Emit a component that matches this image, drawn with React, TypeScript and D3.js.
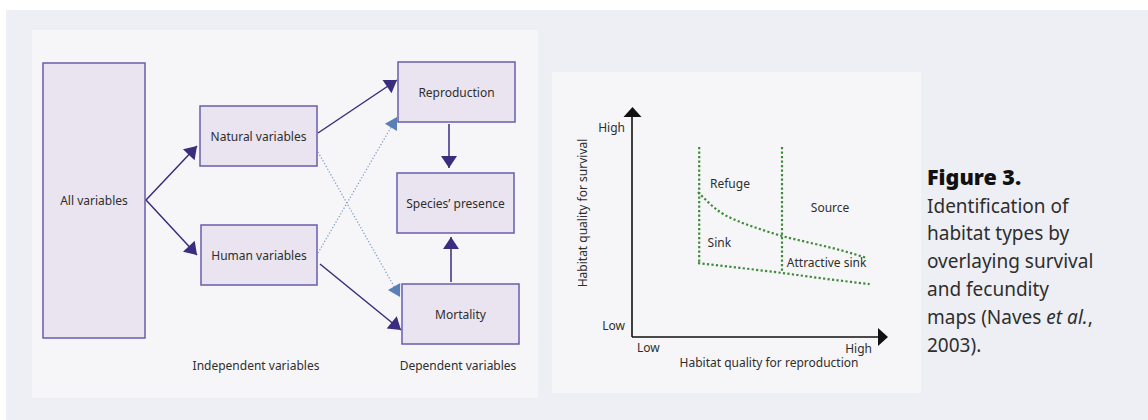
import React from "react";
import * as d3 from "d3";

// ---------- Diagram data (left panel) ----------
const nodeLabels = ["All variables", "Natural variables", "Human variables", "Reproduction", "Species’ presence", "Mortality"];
// box extents in panel units: [x0, y0, x1, y1]
const nodeBoxes: [number, number, number, number][] = [
  [43, 63, 145, 338],
  [200, 106, 317, 166],
  [201, 225, 317, 285],
  [398, 62, 515, 122],
  [397, 173, 514, 233],
  [402, 284, 519, 344],
];
// solid arrows: [x1,y1,x2(tip),y2(tip)]
const solidArrows: [number, number, number, number][] = [
  [146, 200, 197, 146],
  [146, 200, 197, 255],
  [318, 133, 397, 80],
  [320, 264, 401, 330],
  [449, 124, 449, 168],
  [451, 282, 451, 237],
];
const dottedArrows: [number, number, number, number][] = [
  [318, 152, 400, 297],
  [318, 253, 397, 117],
];
const groupLabels = ["Independent variables", "Dependent variables"];
const groupLabelX = [256, 458];

// ---------- Habitat chart data (right panel) ----------
const regionBoundX = [28, 62.5];          // vertical dotted thresholds (reproduction)
const verticalTop = 90.5;
const verticalBottoms = [35.2, 30.5];
const upperCurveX = [27.5, 36.7, 45, 53.3, 62.5, 72.9, 86.7, 97.9];
const upperCurveY = [69, 59.5, 54.8, 51.4, 48.1, 45.2, 41.4, 37.6];
const lowerCurveX = [27.5, 45, 62.5, 80, 99];
const lowerCurveY = [35.2, 32.9, 30.5, 27.8, 25.2];
const regionLabels = ["Refuge", "Source", "Sink", "Attractive sink"];
const regionLabelX = [32.5, 74.5, 31.5, 64.5];
const regionLabelY = [71, 59.3, 43, 33.3];
const axisTickLabels = ["Low", "High"];
const caption = ["Identification of", "habitat types by", "overlaying survival", "and fecundity"];

const FONT = "'Noto Sans', 'DejaVu Sans', sans-serif";
const TEXT = "#2e2e2e";
const LINE = "#3a2c7e";
const BOX_STROKE = "#6a5eab";
const BOX_FILL = "#e9e4ef";
const BLUE = "#7e9bcb";
const BLUE_HEAD = "#5a7fb6";
const GREEN = "#3f8a3a";

function head(x1: number, y1: number, x2: number, y2: number, L: number, W: number) {
  const dx = x2 - x1, dy = y2 - y1;
  const len = Math.hypot(dx, dy);
  const ux = dx / len, uy = dy / len;
  const nx = -uy, ny = ux;
  const bx = x2 - L * ux, by = y2 - L * uy;
  return `M${x2},${y2}L${bx + W * nx},${by + W * ny}L${bx - W * nx},${by - W * ny}Z`;
}

export default function App() {
  // chart scales
  const x = d3.scaleLinear().domain([0, 100]).range([632, 872]);
  const y = d3.scaleLinear().domain([0, 100]).range([337, 127]);
  const curveGen = d3
    .line<[number, number]>()
    .x((d) => x(d[0]))
    .y((d) => y(d[1]))
    .curve(d3.curveMonotoneX);
  const upper: [number, number][] = upperCurveX.map((v, i) => [v, upperCurveY[i]]);
  const lower: [number, number][] = lowerCurveX.map((v, i) => [v, lowerCurveY[i]]);

  const x0 = x(0), y0 = y(0);
  const yTip = 107, xTip = 888;

  return (
    <svg
      width={1148}
      height={420}
      style={{ position: "absolute", left: 0, top: 0, fontFamily: FONT }}
    >
      <rect x={0} y={0} width={1148} height={420} fill="#ffffff" />
      <rect x={6} y={10} width={1142} height={410} fill="#eeeff4" />
      <rect x={32} y={30} width={506} height={368} fill="#f6f6f9" />
      <rect x={552} y={72} width={369} height={321} fill="#f6f6f9" />

      {/* Left diagram */}
      {nodeBoxes.map((b, i) => (
        <g key={"n" + i}>
          <rect
            x={b[0]}
            y={b[1]}
            width={b[2] - b[0]}
            height={b[3] - b[1]}
            fill={BOX_FILL}
            stroke={BOX_STROKE}
            strokeWidth={1.5}
          />
          <text
            x={(b[0] + b[2]) / 2}
            y={(b[1] + b[3]) / 2 + 4.5}
            textAnchor="middle"
            fontSize={12}
            fill={TEXT}
          >
            {nodeLabels[i]}
          </text>
        </g>
      ))}
      {dottedArrows.map((a, i) => (
        <g key={"d" + i}>
          <line
            x1={a[0]}
            y1={a[1]}
            x2={a[2]}
            y2={a[3]}
            stroke={BLUE}
            strokeWidth={1.3}
            strokeDasharray="1.2 2"
          />
          <path d={head(a[0], a[1], a[2], a[3], 12, 7)} fill={BLUE_HEAD} />
        </g>
      ))}
      {solidArrows.map((a, i) => (
        <g key={"s" + i}>
          <line x1={a[0]} y1={a[1]} x2={a[2]} y2={a[3]} stroke={LINE} strokeWidth={1.5} />
          <path d={head(a[0], a[1], a[2], a[3], 12, 8)} fill={LINE} />
        </g>
      ))}
      {groupLabels.map((t, i) => (
        <text key={"g" + i} x={groupLabelX[i]} y={370} textAnchor="middle" fontSize={12} fill={TEXT}>
          {t}
        </text>
      ))}

      {/* Right chart */}
      {regionBoundX.map((v, i) => (
        <line
          key={"v" + i}
          x1={x(v)}
          x2={x(v)}
          y1={y(verticalTop)}
          y2={y(verticalBottoms[i])}
          stroke={GREEN}
          strokeWidth={2.2}
          strokeDasharray="2.2 2.3"
        />
      ))}
      <path d={curveGen(upper) || ""} fill="none" stroke={GREEN} strokeWidth={2.2} strokeDasharray="2.2 2.3" />
      <path d={curveGen(lower) || ""} fill="none" stroke={GREEN} strokeWidth={2.2} strokeDasharray="2.2 2.3" />
      {regionLabels.map((t, i) => (
        <text key={"r" + i} x={x(regionLabelX[i])} y={y(regionLabelY[i])} fontSize={12} fill={TEXT}>
          {t}
        </text>
      ))}

      {/* axes */}
      <line x1={x0} y1={y0} x2={x0} y2={yTip + 8} stroke="#111" strokeWidth={1.6} />
      <line x1={x0} y1={y0} x2={xTip - 8} y2={y0} stroke="#111" strokeWidth={1.6} />
      <path d={`M${x0 + 0.5},${yTip}L${x0 + 9.5},${yTip + 10}L${x0 - 8.5},${yTip + 10}Z`} fill="#111" />
      <path d={`M${xTip},${y0}L${xTip - 10},${y0 - 9}L${xTip - 10},${y0 + 9}Z`} fill="#111" />
      <text x={x0 - 7} y={132} textAnchor="end" fontSize={12} fill={TEXT}>{axisTickLabels[1]}</text>
      <text x={x0 - 7} y={330} textAnchor="end" fontSize={12} fill={TEXT}>{axisTickLabels[0]}</text>
      <text x={x0 + 5} y={352} fontSize={12} fill={TEXT}>{axisTickLabels[0]}</text>
      <text x={872} y={353} textAnchor="end" fontSize={12} fill={TEXT}>{axisTickLabels[1]}</text>
      <text x={769} y={367} textAnchor="middle" fontSize={12} fill={TEXT}>Habitat quality for reproduction</text>
      <text
        transform="translate(587,213) rotate(-90)"
        textAnchor="middle"
        fontSize={12}
        fill={TEXT}
      >
        Habitat quality for survival
      </text>

      {/* caption */}
      <text x={927} y={185} fontSize={21.5} fontWeight={900} fill="#111">Figure 3.</text>
      {caption.map((t, i) => (
        <text key={"c" + i} x={927} y={212.5 + 27.8 * i} fontSize={19} fill={TEXT}>
          {t}
        </text>
      ))}
      <text x={927} y={212.5 + 27.8 * 4} fontSize={19} fill={TEXT}>
        maps (Naves <tspan fontStyle="italic">et al.</tspan>,
      </text>
      <text x={927} y={212.5 + 27.8 * 5} fontSize={19} fill={TEXT}>2003).</text>
    </svg>
  );
}
